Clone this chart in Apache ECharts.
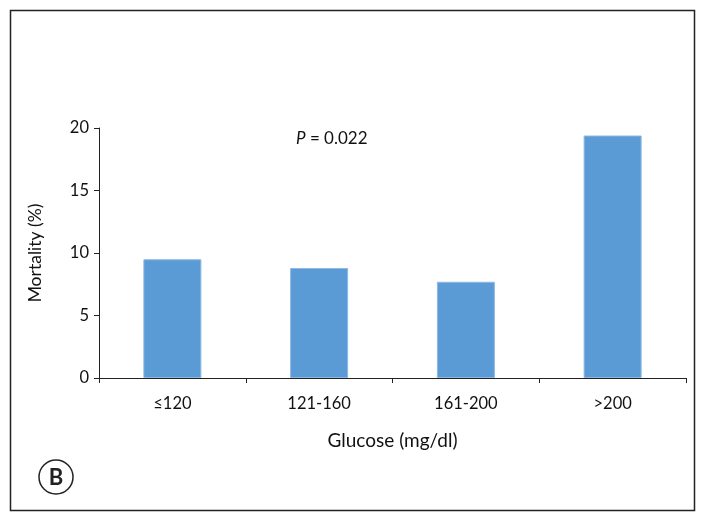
<!DOCTYPE html>
<html><head><meta charset="utf-8">
<script src="https://cdn.jsdelivr.net/npm/echarts@6/dist/echarts.min.js"></script>
<style>html,body{margin:0;padding:0;background:#fff}#c{width:701px;height:512px}</style>
</head><body><div id="c"></div>
<script>
const categories = ['≤120', '121-160', '161-200', '>200'];
const mortality = [9.5, 8.8, 7.7, 19.4];
const yTicks = [0, 5, 10, 15, 20];
const xTitle = 'Glucose (mg/dl)';
const yTitle = 'Mortality (%)';
const pLabel = 'P';
const pValue = ' = 0.022';
const panel = 'B';

const FONT = 'Lato';
const TXT = '#111';
const chart = echarts.init(document.getElementById('c'), null, {renderer: 'canvas'});
chart.setOption({
  backgroundColor: '#fff',
  animation: false,
  textStyle: {fontFamily: FONT},
  grid: {left: 99, right: 15, top: 128, bottom: 134, containLabel: false},
  xAxis: {
    type: 'category', data: categories,
    axisLine: {lineStyle: {color: '#222', width: 1}},
    axisTick: {show: true, length: 5, alignWithLabel: false, lineStyle: {color: '#222'}},
    axisLabel: {color: TXT, fontSize: 16.5, margin: 17, fontFamily: FONT},
    name: xTitle, nameLocation: 'middle', nameGap: 53,
    nameTextStyle: {color: TXT, fontSize: 19, fontFamily: FONT}
  },
  yAxis: {
    type: 'value', min: yTicks[0], max: yTicks[yTicks.length - 1], interval: 5,
    splitLine: {show: false},
    axisLine: {show: true, lineStyle: {color: '#222', width: 1}},
    axisTick: {show: true, length: 5, lineStyle: {color: '#222'}},
    axisLabel: {color: TXT, fontSize: 16.5, margin: 10, fontFamily: FONT},
    name: yTitle, nameLocation: 'middle', nameGap: 55, nameRotate: 90,
    nameTextStyle: {color: TXT, fontSize: 17.5, fontFamily: FONT}
  },
  series: [{
    type: 'bar', data: mortality, barWidth: 58,
    itemStyle: {color: '#5B9BD5', borderColor: '#8DB8E4', borderWidth: 1}
  }],
  graphic: [
    {type: 'rect', shape: {x: 10.5, y: 10.5, width: 684, height: 500},
     style: {fill: 'none', stroke: '#222', lineWidth: 1.5}, silent: true, z: 0},
    {type: 'text', x: 296, y: 139,
     style: {text: '{i|' + pLabel + '}{n|' + pValue + '}', verticalAlign: 'middle',
       rich: {i: {fontStyle: 'italic', fontSize: 17, fill: TXT, fontFamily: FONT},
              n: {fontSize: 17, fill: TXT, fontFamily: FONT}}}},
    {type: 'circle', shape: {cx: 56, cy: 477, r: 17},
     style: {fill: '#fff', stroke: '#222', lineWidth: 1.5}},
    {type: 'text', x: 56, y: 478,
     style: {text: panel, fontSize: 22, fontWeight: 'bold', fill: '#222', fontFamily: FONT,
       align: 'center', verticalAlign: 'middle'}}
  ]
});
</script></body></html>
